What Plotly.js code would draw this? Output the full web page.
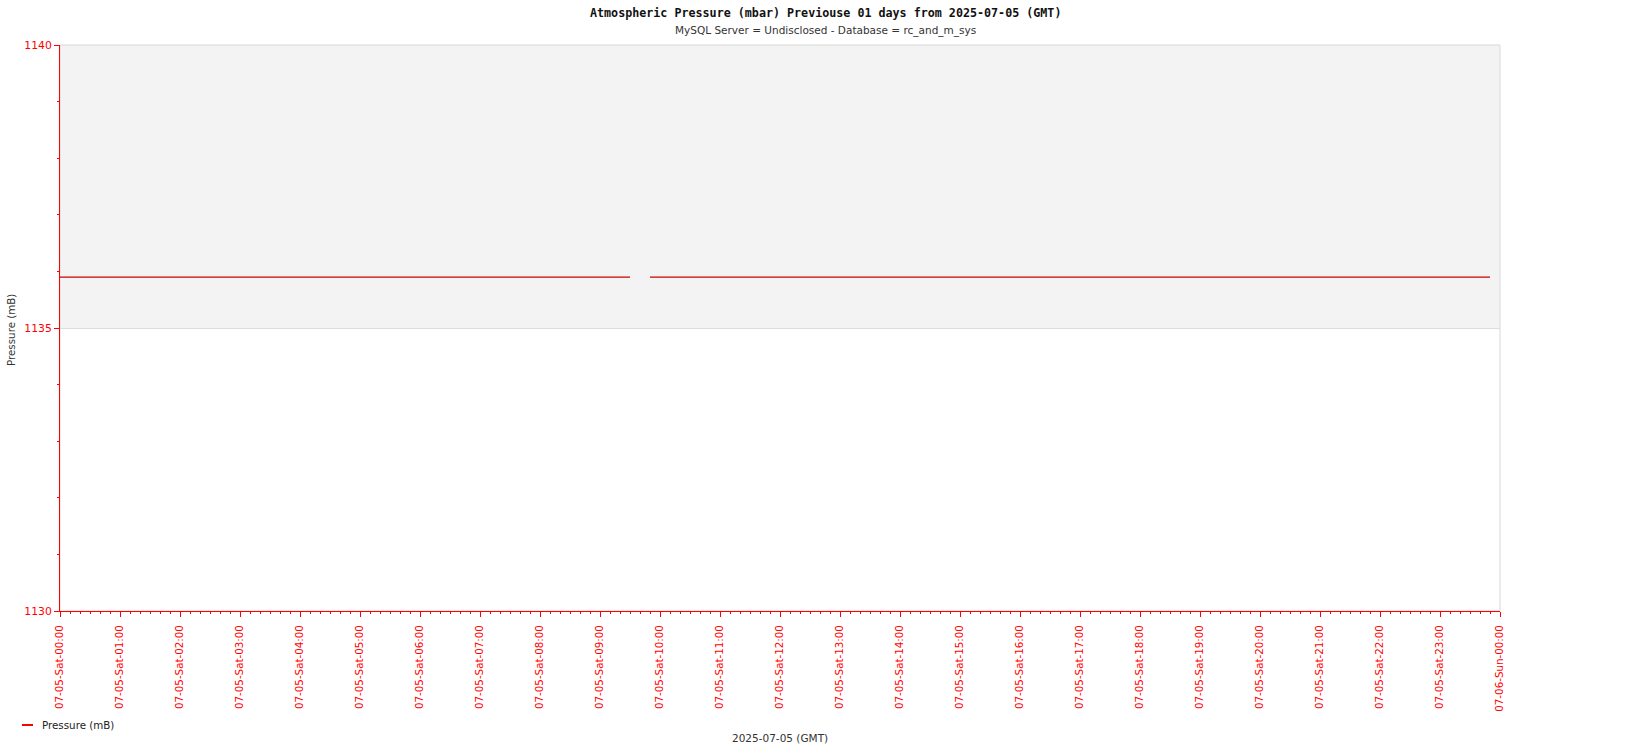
<!DOCTYPE html>
<html>
<head>
<meta charset="utf-8">
<script src="https://cdn.plot.ly/plotly-3.0.1.min.js"></script>
<style>html,body{margin:0;padding:0;background:#fff}#chart{width:1650px;height:750px}</style>
</head>
<body>
<div id="chart"></div>
<script>
// Readings (10-minute logger; one reading missing at 09:40)
const times = [
  '2025-07-05 00:00','2025-07-05 01:00','2025-07-05 02:00','2025-07-05 03:00','2025-07-05 04:00',
  '2025-07-05 05:00','2025-07-05 06:00','2025-07-05 07:00','2025-07-05 08:00','2025-07-05 09:00',
  '2025-07-05 09:30','2025-07-05 09:40','2025-07-05 09:50',
  '2025-07-05 10:00','2025-07-05 11:00','2025-07-05 12:00','2025-07-05 13:00','2025-07-05 14:00',
  '2025-07-05 15:00','2025-07-05 16:00','2025-07-05 17:00','2025-07-05 18:00','2025-07-05 19:00',
  '2025-07-05 20:00','2025-07-05 21:00','2025-07-05 22:00','2025-07-05 23:00','2025-07-05 23:50'
];
const pressure = [
  1135.9,1135.9,1135.9,1135.9,1135.9,
  1135.9,1135.9,1135.9,1135.9,1135.9,
  1135.9,null,1135.9,
  1135.9,1135.9,1135.9,1135.9,1135.9,
  1135.9,1135.9,1135.9,1135.9,1135.9,
  1135.9,1135.9,1135.9,1135.9,1135.9
];
const seriesName = 'Pressure (mB)';
const xRange = ['2025-07-05 00:00','2025-07-06 00:00'];
const yRange = [1130, 1140];
const bandRange = [1135, 1140];
const titleText = 'Atmospheric Pressure (mbar) Previouse 01 days from 2025-07-05 (GMT)';
const subtitleText = 'MySQL Server = Undisclosed - Database = rc_and_m_sys';
const xTitleText = '2025-07-05 (GMT)';
const yTitleText = 'Pressure (mB)';

const W = 1650, H = 750;
const M = {l: 60, r: 150, t: 45, b: 139};
const pw = W - M.l - M.r, ph = H - M.t - M.b;
const px = x => (x - M.l) / pw;
const py = y => (H - M.b - y) / ph;

const trace = {
  x: times, y: pressure, type: 'scatter', mode: 'lines', name: seriesName,
  connectgaps: false, line: {color: '#cc0000', width: 1.2}, showlegend: false,
  hoverinfo: 'x+y'
};

const layout = {
  width: W, height: H,
  margin: M,
  paper_bgcolor: '#ffffff', plot_bgcolor: '#ffffff',
  font: {family: 'DejaVu Sans, sans-serif', size: 10.5, color: '#333'},
  showlegend: false,
  xaxis: {
    type: 'date', range: xRange, dtick: 3600000, tick0: xRange[0],
    tickformat: '%m-%d-%a-%H:%M', tickangle: -90,
    tickfont: {color: '#ff0000', size: 10.3, family: 'DejaVu Sans, sans-serif'},
    ticks: 'outside', ticklen: 5, tickcolor: '#ff0000', tickwidth: 1,
    ticklabelstandoff: 4,
    minor: {dtick: 600000, ticks: 'outside', ticklen: 2, tickcolor: '#ff0000', tickwidth: 1, showgrid: false},
    showline: true, linecolor: '#ff0000', linewidth: 1,
    showgrid: false, zeroline: false, fixedrange: true
  },
  yaxis: {
    range: yRange, dtick: 5, tick0: 1130,
    tickfont: {color: '#ff0000', size: 10.8, family: 'DejaVu Sans, sans-serif'},
    ticks: 'outside', ticklen: 5, tickcolor: '#ff0000', tickwidth: 1,
    minor: {dtick: 1, ticks: 'outside', ticklen: 2, tickcolor: '#ff0000', tickwidth: 1, showgrid: false},
    showline: true, linecolor: '#ff0000', linewidth: 1,
    showgrid: true, gridcolor: '#dddddd', gridwidth: 1,
    zeroline: false, fixedrange: true
  },
  shapes: [
    {type: 'rect', xref: 'paper', yref: 'y', x0: 0, x1: 1, y0: bandRange[0], y1: bandRange[1],
     fillcolor: '#f3f3f3', line: {width: 0}, layer: 'below'},
    {type: 'rect', xref: 'paper', yref: 'paper', x0: 0, x1: 1, y0: 0, y1: 1,
     fillcolor: 'rgba(0,0,0,0)', line: {color: '#d8d8d8', width: 1}, layer: 'below'},
    {type: 'line', xref: 'paper', yref: 'paper', x0: px(22), x1: px(33), y0: py(725), y1: py(725),
     line: {color: '#ff0000', width: 2}}
  ],
  annotations: [
    {text: '<b>' + titleText + '</b>', xref: 'paper', yref: 'paper', x: px(825), y: py(13),
     xanchor: 'center', yanchor: 'middle', showarrow: false,
     font: {family: 'DejaVu Sans Mono, monospace', size: 11.7, color: '#111'}},
    {text: subtitleText, xref: 'paper', yref: 'paper', x: px(825), y: py(30),
     xanchor: 'center', yanchor: 'middle', showarrow: false,
     font: {family: 'DejaVu Sans, sans-serif', size: 10.5, color: '#333'}},
    {text: yTitleText, xref: 'paper', yref: 'paper', x: px(11), y: py(330), textangle: -90,
     xanchor: 'center', yanchor: 'middle', showarrow: false,
     font: {family: 'DejaVu Sans, sans-serif', size: 10.3, color: '#333'}},
    {text: xTitleText, xref: 'paper', yref: 'paper', x: 0.5, y: py(738),
     xanchor: 'center', yanchor: 'middle', showarrow: false,
     font: {family: 'DejaVu Sans, sans-serif', size: 10.5, color: '#333'}},
    {text: seriesName, xref: 'paper', yref: 'paper', x: px(40), y: py(725),
     xanchor: 'left', yanchor: 'middle', showarrow: false,
     font: {family: 'DejaVu Sans, sans-serif', size: 10.3, color: '#222'}}
  ]
};

Plotly.newPlot('chart', [trace], layout, {displayModeBar: false, staticPlot: true});
</script>
</body>
</html>
